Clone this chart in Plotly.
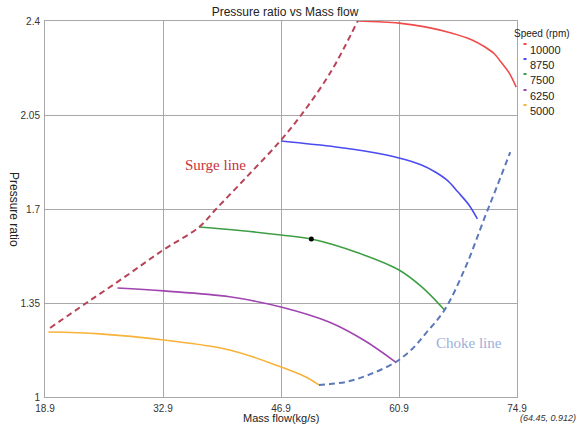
import plotly.graph_objects as go

# ---- data ----
speeds = ["10000", "8750", "7500", "6250", "5000"]
colors = ["#f04a4a", "#4b4bf2", "#3e9e44", "#a044b0", "#f7b23a"]

flow_10000 = [56.0, 58.5, 60.9, 64.0, 67.1, 69.5, 71.1, 72.2, 73.0, 74.0, 74.8]
pr_10000 = [2.400, 2.397, 2.392, 2.378, 2.355, 2.330, 2.303, 2.278, 2.247, 2.205, 2.154]

flow_8750 = [46.9, 53.4, 57.5, 60.9, 63.5, 65.2, 66.7, 67.9, 69.2, 70.2]
pr_8750 = [1.953, 1.931, 1.912, 1.890, 1.865, 1.838, 1.805, 1.763, 1.715, 1.663]

flow_7500 = [37.2, 42.0, 46.9, 50.5, 56.1, 60.9, 63.6, 66.3]
pr_7500 = [1.633, 1.620, 1.603, 1.588, 1.536, 1.473, 1.410, 1.324]

flow_6250 = [27.5, 33.0, 40.8, 46.9, 52.6, 56.7, 60.5]
pr_6250 = [1.406, 1.395, 1.373, 1.335, 1.279, 1.212, 1.130]

flow_5000 = [19.3, 25.4, 33.0, 40.8, 46.9, 49.6, 51.4]
pr_5000 = [1.242, 1.235, 1.212, 1.175, 1.112, 1.078, 1.045]

surge_flow = [19.5, 23.8, 28.5, 32.9, 37.2, 39.2, 43.0, 46.8, 49.3, 52.8, 56.0]
surge_pr = [1.257, 1.350, 1.450, 1.547, 1.633, 1.700, 1.825, 1.953, 2.050, 2.210, 2.400]

choke_flow = [51.4, 54.6, 57.5, 60.5, 62.5, 64.1, 66.3, 68.8, 71.0, 72.6, 74.1]
choke_pr = [1.045, 1.056, 1.085, 1.130, 1.180, 1.238, 1.324, 1.484, 1.663, 1.790, 1.912]

point_flow = [50.5]
point_pr = [1.588]

x_ticks = [18.9, 32.9, 46.9, 60.9, 74.9]
y_ticks = [1, 1.35, 1.7, 2.05, 2.4]
y_tick_text = ["1", "1.35", "1.7", "2.05", "2.4"]

speed_flows = [flow_10000, flow_8750, flow_7500, flow_6250, flow_5000]
speed_prs = [pr_10000, pr_8750, pr_7500, pr_6250, pr_5000]

# ---- layout geometry ----
W, H = 579, 428
L, R, T, B = 45, 62, 21, 31
PW, PH = W - L - R, H - T - B


def px_x(px):
    return (px - L) / PW


def px_y(py):
    return (H - B - py) / PH


FONT = "Liberation Sans Narrow, Arial Narrow, Liberation Sans, Arial, sans-serif"
GRID = "#a8a8a8"

fig = go.Figure()

for name, fx, py_, c in zip(speeds, speed_flows, speed_prs, colors):
    fig.add_trace(go.Scatter(x=fx, y=py_, mode="lines", name=name,
                             line=dict(color=c, width=1.6, shape="spline"),
                             showlegend=False))

fig.add_trace(go.Scatter(x=surge_flow, y=surge_pr, mode="lines", name="Surge line",
                         line=dict(color="#b84458", width=2, dash="6px,4px", shape="spline"),
                         showlegend=False))
fig.add_trace(go.Scatter(x=choke_flow, y=choke_pr, mode="lines", name="Choke line",
                         line=dict(color="#5b78b8", width=2, dash="6px,4px", shape="spline"),
                         showlegend=False))
fig.add_trace(go.Scatter(x=point_flow, y=point_pr, mode="markers", name="point",
                         marker=dict(color="black", size=5), showlegend=False))


def paper_text(text, px, py, size, xanchor="center", color="#222", angle=0):
    return dict(text=text, x=px_x(px), y=px_y(py), xref="paper", yref="paper",
                xanchor=xanchor, yanchor="middle", showarrow=False, textangle=angle,
                font=dict(family=FONT, size=size, color=color))


annotations = [
    dict(text="Surge line", x=39.1, y=1.864, xref="x", yref="y", showarrow=False,
         xanchor="center", yanchor="middle",
         font=dict(family="Liberation Serif, serif", size=15, color="#c8323c")),
    dict(text="Choke line", x=69.25, y=1.201, xref="x", yref="y", showarrow=False,
         xanchor="center", yanchor="middle",
         font=dict(family="Liberation Serif, serif", size=15, color="#9cb0dc")),
    paper_text("Pressure ratio", 14, 210, 12, angle=90),
    paper_text("Mass flow(kg/s)", 281, 418, 11),
    paper_text("<i>(64.45, 0.912)</i>", 578, 418, 9, xanchor="right", color="#333"),
    paper_text("Speed (rpm)", 512, 34, 10, xanchor="left"),
]

shapes = []
legend_y = [50, 65, 80, 96, 111]
for name, c, ly in zip(speeds, colors, legend_y):
    annotations.append(paper_text(name, 528, ly, 11, xanchor="left"))
    shapes.append(dict(type="rect", xref="paper", yref="paper",
                       x0=px_x(523.5), x1=px_x(526.5), y0=px_y(ly - 5), y1=px_y(ly - 7),
                       fillcolor=c, line=dict(width=0)))

fig.update_layout(
    template="none",
    width=W, height=H,
    margin=dict(l=L, r=R, t=T, b=B, pad=0, autoexpand=False),
    paper_bgcolor="white", plot_bgcolor="white",
    font=dict(family=FONT, size=10, color="#333"),
    title=dict(text="Pressure ratio vs Mass flow", x=285 / W, xref="container",
               xanchor="center", y=1 - 12 / H, yref="container", yanchor="middle",
               font=dict(family=FONT, size=12, color="#222")),
    xaxis=dict(range=[18.9, 74.9], tickvals=x_ticks, ticktext=[str(v) for v in x_ticks],
               showgrid=True, gridcolor=GRID, gridwidth=1, automargin=False,
               showline=True, linecolor=GRID, linewidth=1, mirror=True, zeroline=False,
               ticks="", ticklabelstandoff=2,
               tickfont=dict(family=FONT, size=10, color="#333")),
    yaxis=dict(range=[1, 2.4], tickvals=y_ticks, ticktext=y_tick_text,
               showgrid=True, gridcolor=GRID, gridwidth=1, automargin=False,
               showline=True, linecolor=GRID, linewidth=1, mirror=True, zeroline=False,
               ticks="", ticklabelstandoff=2,
               tickfont=dict(family=FONT, size=10, color="#333")),
    annotations=annotations,
    shapes=shapes,
    showlegend=False,
)

fig.write_html(
    "out.html",
    config={"displayModeBar": False},
    post_script="document.body.style.margin='0';document.body.style.padding='0';"
                "document.documentElement.style.overflow='hidden';",
)
